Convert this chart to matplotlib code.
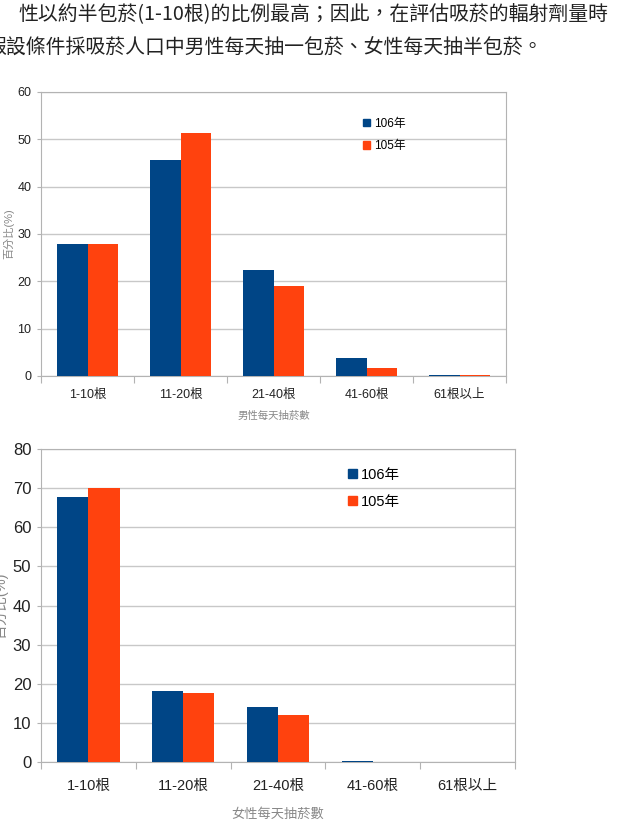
import numpy as np
import matplotlib
matplotlib.use("Agg")
import matplotlib.pyplot as plt
from matplotlib.patches import Patch

plt.rcParams['font.family'] = ['Liberation Sans', 'Noto Sans CJK TC', 'DejaVu Sans']

# data
categories = ['1-10根', '11-20根', '21-40根', '41-60根', '61根以上']
series_names = ['106年', '105年']
male_106 = [27.8, 45.6, 22.5, 3.7, 0.3]
male_105 = [27.8, 51.3, 19.0, 1.7, 0.2]
female_106 = [67.7, 18.2, 14.0, 0.25, 0.0]
female_105 = [70.0, 17.6, 12.0, 0.0, 0.0]

line1 = "性以約半包菸(1-10根)的比例最高；因此，在評估吸菸的輻射劑量時"
line2 = "假設條件採吸菸人口中男性每天抽一包菸、女性每天抽半包菸。"

c_blue = '#004586'
c_orange = '#ff420e'
c_grid = '#c8c8c8'

W, H = 619, 835
fig = plt.figure(figsize=(W / 100, H / 100), dpi=100)

# header text
fig.text(18 / W, 1 - 15 / H, line1, fontsize=14.3, family=['Noto Sans CJK TC', 'DejaVu Sans'],
         va='center', ha='left', color='#222222')
fig.text(-14 / W, 1 - 48 / H, line2, fontsize=14.3, family=['Noto Sans CJK TC', 'DejaVu Sans'],
         va='center', ha='left', color='#222222')


def draw(ax, v106, v105, ymax, xlabel, ytick_fs, xtick_fs, xlab_fs, ylab_fs, leg_fs, leg_pos,
         ylab_x, xpad, xlabpad):
    x = np.arange(len(categories))
    w = 0.33
    ax.bar(x - w / 2, v106, w, color=c_blue, zorder=3)
    ax.bar(x + w / 2, v105, w, color=c_orange, zorder=3)
    ax.set_xlim(-0.5, len(categories) - 0.5)
    ax.set_ylim(0, ymax)
    ax.set_yticks(np.arange(0, ymax + 1, 10))
    ax.yaxis.grid(True, color=c_grid, lw=1, zorder=0)
    ax.set_axisbelow(True)
    for s in ax.spines.values():
        s.set_color('#b3b3b3')
    ax.set_xticks(np.arange(-0.5, len(categories), 1.0))
    ax.set_xticklabels([])
    ax.set_xticks(x, minor=True)
    ax.set_xticklabels(categories, minor=True, fontsize=xtick_fs, color='#222222')
    ax.tick_params(axis='x', which='major', length=5, color='#b3b3b3', direction='out')
    ax.tick_params(axis='x', which='minor', length=0, pad=xpad)
    ax.tick_params(axis='y', length=3, color='#b3b3b3', labelsize=ytick_fs, pad=4, labelcolor='#222222')
    ax.set_xlabel(xlabel, fontsize=xlab_fs, color='#888888', labelpad=xlabpad)
    ax.set_ylabel('百分比(%)', fontsize=ylab_fs, color='#888888')
    ax.yaxis.set_label_coords(ylab_x, 0.5)
    handles = [Patch(color=c_blue), Patch(color=c_orange)]
    ax.legend(handles, series_names, loc='upper left', bbox_to_anchor=leg_pos,
              frameon=False, fontsize=leg_fs, handlelength=0.6, handleheight=0.6,
              handletextpad=0.3, labelspacing=0.9)


ax1 = fig.add_axes([41 / W, 1 - 376 / H, 465 / W, 284 / H])
draw(ax1, male_106, male_105, 60, '男性每天抽菸數', 9, 9, 7.5, 8, 8.5, (0.67, 0.947), -0.057, 9, 7)

ax2 = fig.add_axes([41 / W, 1 - 762 / H, 474 / W, 313 / H])
draw(ax2, female_106, female_105, 80, '女性每天抽菸數', 12, 10.5, 9.5, 10.5, 10.5, (0.62, 0.982), -0.07, 12, 11)

fig.savefig('out.png', dpi=100)
